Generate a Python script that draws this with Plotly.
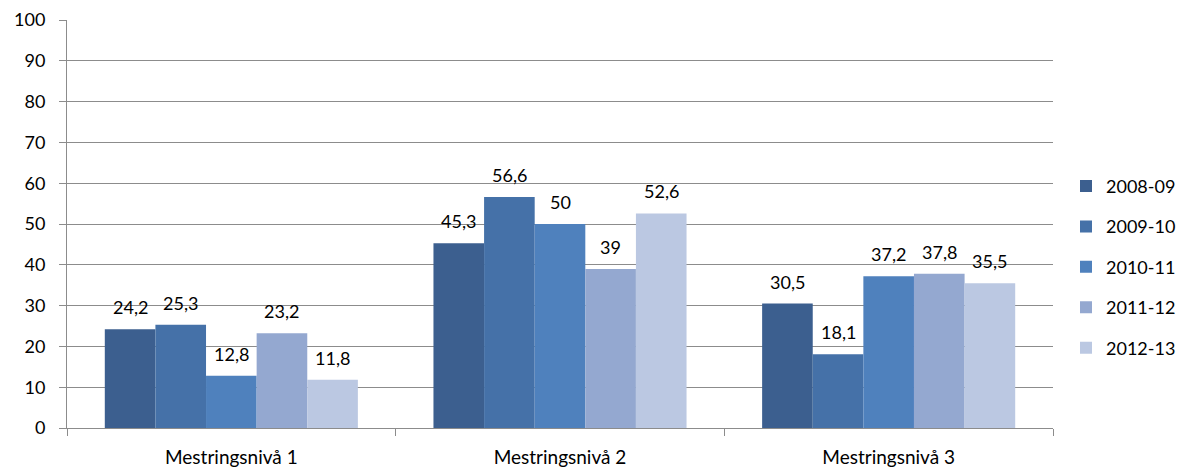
import plotly.graph_objects as go

categories = ["Mestringsnivå 1", "Mestringsnivå 2", "Mestringsnivå 3"]
series_names = ["2008-09", "2009-10", "2010-11", "2011-12", "2012-13"]
values_2008_09 = [24.2, 45.3, 30.5]
values_2009_10 = [25.3, 56.6, 18.1]
values_2010_11 = [12.8, 50.0, 37.2]
values_2011_12 = [23.2, 39.0, 37.8]
values_2012_13 = [11.8, 52.6, 35.5]
colors = ["#3C5F8F", "#4571A8", "#4F81BD", "#94A8D0", "#BBC8E2"]

all_values = [values_2008_09, values_2009_10, values_2010_11, values_2011_12, values_2012_13]

def fmt(v):
    s = ("%.1f" % v).rstrip("0").rstrip(".")
    return s.replace(".", ",")

FONT = "Lato, 'Open Sans', sans-serif"
FS = 18
BARGAP = 0.23
n = len(series_names)
bw = (1 - BARGAP) / n

W, H = 1186, 467
ML, MR = 67, 0
PLOT_RIGHT = 1053
dom_end = (PLOT_RIGHT - ML) / (W - ML - MR)

fig = go.Figure()
for i, (name, vals) in enumerate(zip(series_names, all_values)):
    fig.add_trace(go.Bar(
        x=categories, y=vals, name=name,
        marker=dict(color=colors[i], line=dict(width=0)),
        legendgroup=name,
    ))
    for ci, v in enumerate(vals):
        fig.add_annotation(
            x=ci + (i - (n - 1) / 2) * bw, y=v, xref="x", yref="y",
            text=fmt(v), showarrow=False, yanchor="middle", yshift=22,
            font=dict(size=FS, color="#000000", family=FONT),
        )

fig.update_layout(
    barmode="group", bargap=BARGAP, bargroupgap=0,
    width=W, height=H,
    margin=dict(l=ML, r=MR, t=20, b=39),
    plot_bgcolor="white", paper_bgcolor="white",
    font=dict(family=FONT, size=FS, color="#000000"),
    legend=dict(x=(1066 - ML) / (W - ML - MR), xanchor="left", y=0.395, yanchor="middle",
                font=dict(size=FS, family=FONT), traceorder="grouped",
                tracegroupgap=14, itemwidth=30),
    showlegend=True,
)
fig.update_yaxes(range=[0, 100], dtick=10, showgrid=True, gridcolor="#8C8C8C", gridwidth=1,
                 showline=True, linecolor="#8C8C8C", linewidth=1,
                 ticks="outside", ticklen=7, tickcolor="#8C8C8C",
                 ticklabelstandoff=10, automargin=False,
                 tickfont=dict(size=FS, family=FONT), zeroline=False)
fig.update_xaxes(domain=[0, dom_end], showline=True, linecolor="#8C8C8C", linewidth=1,
                 ticks="outside", ticklen=7, tickcolor="#8C8C8C", tickson="boundaries",
                 ticklabelstandoff=12, automargin=False,
                 tickfont=dict(size=19, family=FONT))

fig.write_html("out.html", config={"displayModeBar": False},
               post_script="document.body.style.margin='0';document.body.style.overflow='hidden';")
